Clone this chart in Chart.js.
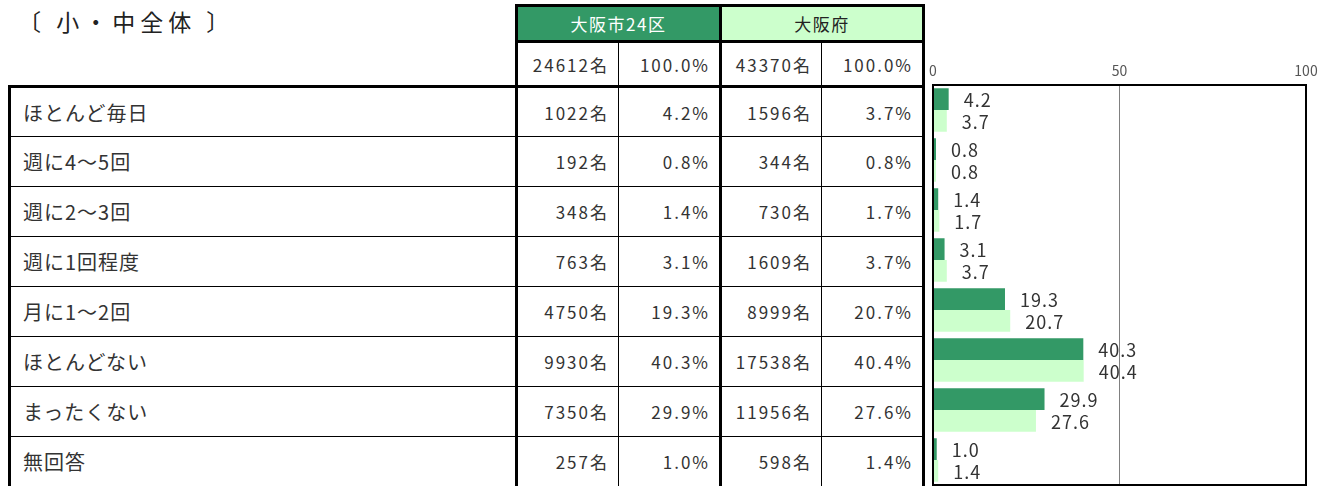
<!DOCTYPE html>
<html lang="ja">
<head>
<meta charset="utf-8">
<script src="https://cdn.jsdelivr.net/npm/chart.js@4.4.1/dist/chart.umd.min.js"></script>
<style>
  html, body { margin: 0; padding: 0; background: #fff; }
  body { width: 1331px; height: 486px; overflow: hidden; position: relative;
         font-family: "Noto Sans CJK JP", "Noto Sans", sans-serif; color: #222; }
  #title { position: absolute; left: 18px; top: 4px; font-size: 23px; letter-spacing: 5px; }
  #tbl { position: absolute; left: 8px; top: 4px; border-collapse: collapse; table-layout: fixed; width: 914px; }
  #tbl td, #tbl th { border: 1px solid #000; padding: 0; font-weight: normal; white-space: nowrap; }
  #tbl tr.h1 { height: 36px; }
  #tbl tr.h2 { height: 45px; }
  #tbl tr.row { height: 50px; }
  #tbl .blank { border: none; border-right: 3px solid #000; }
  #tbl tr.h2 .blank { border-bottom: 3px solid #000; }
  #tbl th.city { background: #339966; color: #fff; font-size: 17px; letter-spacing: 1.5px; border: 3px solid #000; }
  #tbl th.pref { background: #ccffcc; color: #222; font-size: 17px; letter-spacing: 1.5px; border: 3px solid #000; }
  #tbl tr.h2 td { border-bottom: 3px solid #000; }
  #tbl td.num { text-align: right; padding-right: 9px; font-size: 17px; letter-spacing: 2px; color: #333; }
  #tbl td.lab { font-size: 20px; padding-left: 12px; letter-spacing: 1px; color: #333; border-left: 3px solid #000; border-right: 3px solid #000; }
  #tbl td.gend { border-right: 3px solid #000; }
  #chartBox { position: absolute; left: 922px; top: 40px; width: 409px; height: 446px; }
</style>
</head>
<body>
<div id="title">〔 小・中全体 〕</div>
<table id="tbl">
  <colgroup><col style="width:507px"><col style="width:102px"><col style="width:102px"><col style="width:101px"><col style="width:102px"></colgroup>
  <tbody id="tbody"></tbody>
</table>
<div id="chartBox"><canvas id="chart"></canvas></div>
<script>
const categories = ['ほとんど毎日', '週に4～5回', '週に2～3回', '週に1回程度', '月に1～2回', 'ほとんどない', 'まったくない', '無回答'];
const cityName = '大阪市24区';
const prefName = '大阪府';
const cityTotal = 24612;
const prefTotal = 43370;
const cityCounts = [1022, 192, 348, 763, 4750, 9930, 7350, 257];
const cityPct = [4.2, 0.8, 1.4, 3.1, 19.3, 40.3, 29.9, 1.0];
const prefCounts = [1596, 344, 730, 1609, 8999, 17538, 11956, 598];
const prefPct = [3.7, 0.8, 1.7, 3.7, 20.7, 40.4, 27.6, 1.4];
const xTicks = [0, 50, 100];

// table on the left
const tbody = document.getElementById('tbody');
let html = '';
html += `<tr class="h1"><td class="blank"></td><th class="city" colspan="2">${cityName}</th><th class="pref" colspan="2">${prefName}</th></tr>`;
html += `<tr class="h2"><td class="blank"></td><td class="num">${cityTotal}名</td><td class="num gend">100.0%</td><td class="num">${prefTotal}名</td><td class="num gend">100.0%</td></tr>`;
categories.forEach((c, i) => {
  html += `<tr class="row"><td class="lab">${c}</td>` +
    `<td class="num">${cityCounts[i]}名</td><td class="num gend">${cityPct[i].toFixed(1)}%</td>` +
    `<td class="num">${prefCounts[i]}名</td><td class="num gend">${prefPct[i].toFixed(1)}%</td></tr>`;
});
tbody.innerHTML = html;

// frame around the plot area
const framePlugin = {
  id: 'frame',
  afterDatasetsDraw(chart) {
    const { ctx, chartArea: a } = chart;
    ctx.save();
    ctx.strokeStyle = '#000';
    ctx.lineWidth = 2;
    ctx.strokeRect(a.left, a.top, a.right - a.left, a.bottom - a.top);
    ctx.restore();
  }
};

// value labels after each bar
const valueLabels = {
  id: 'valueLabels',
  afterDatasetsDraw(chart) {
    const { ctx } = chart;
    ctx.save();
    ctx.font = '18px "Noto Sans CJK JP", sans-serif';
    ctx.letterSpacing = '1px';
    ctx.fillStyle = '#333';
    ctx.textBaseline = 'middle';
    ctx.textAlign = 'left';
    chart.data.datasets.forEach((ds, di) => {
      chart.getDatasetMeta(di).data.forEach((el, i) => {
        ctx.fillText(ds.data[i].toFixed(1), el.x + 15, el.y + 1);
      });
    });
    ctx.restore();
  }
};

const ctx = document.getElementById('chart').getContext('2d');
const chart = new Chart(ctx, {
  type: 'bar',
  data: {
    labels: categories,
    datasets: [
      { label: cityName, data: cityPct, backgroundColor: '#339966', categoryPercentage: 0.87, barPercentage: 1.0 },
      { label: prefName, data: prefPct, backgroundColor: '#ccffcc', categoryPercentage: 0.87, barPercentage: 1.0 }
    ]
  },
  options: {
    indexAxis: 'y',
    responsive: true,
    maintainAspectRatio: false,
    animation: false,
    layout: { padding: { left: 11, right: 25, top: 0, bottom: 1 } },
    scales: {
      x: {
        position: 'top',
        min: 0,
        max: 100,
        afterBuildTicks: (s) => { s.ticks = xTicks.map(v => ({ value: v })); },
        afterFit: (s) => { s.height = 45; },
        ticks: { color: '#555', font: { size: 14, family: '"Noto Sans CJK JP", sans-serif' }, padding: 6 },
        grid: { color: (c) => c.tick && c.tick.value === 50 ? '#808080' : 'rgba(0,0,0,0)', drawTicks: false },
        border: { display: false }
      },
      y: { display: false }
    },
    plugins: {
      legend: { display: false },
      tooltip: { enabled: false }
    }
  },
  plugins: [framePlugin, valueLabels]
});
</script>
</body>
</html>
